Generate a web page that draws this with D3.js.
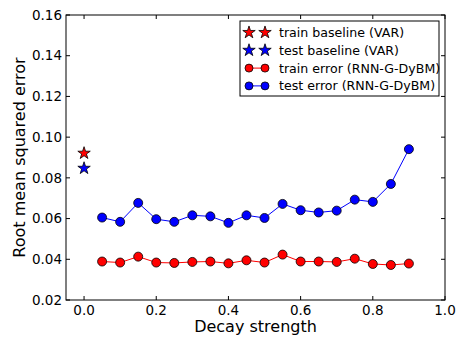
<!DOCTYPE html>
<meta charset="utf-8">
<style>
body { margin: 0; background: #fff; }
text { font-family: "DejaVu Sans", sans-serif; }
</style>
<div id="chart"></div>
<script src="https://d3js.org/d3.v7.min.js"></script>
<script>
// decay strengths used for the RNN-G-DyBM runs
var decay = [0.05, 0.10, 0.15, 0.20, 0.25, 0.30, 0.35, 0.40, 0.45, 0.50,
             0.55, 0.60, 0.65, 0.70, 0.75, 0.80, 0.85, 0.90];
var trainErr = [0.0389, 0.0384, 0.0413, 0.0384, 0.0382, 0.0387, 0.0389, 0.0380, 0.0395,
                0.0384, 0.0423, 0.0389, 0.0389, 0.0387, 0.0403, 0.0377, 0.0372, 0.0379];
var testErr = [0.0605, 0.0584, 0.0677, 0.0597, 0.0584, 0.0616, 0.0611, 0.0579, 0.0616,
               0.0603, 0.0672, 0.0641, 0.0630, 0.0639, 0.0693, 0.0682, 0.0770, 0.0941];
// VAR baselines, plotted at decay 0
var baseX = 0.0;
var trainBase = 0.0921;
var testBase = 0.0847;

var xTicks = [0.0, 0.2, 0.4, 0.6, 0.8, 1.0];
var yTicks = [0.02, 0.04, 0.06, 0.08, 0.10, 0.12, 0.14, 0.16];

var legendItems = [
  {name: "train baseline (VAR)", color: "#ff0000", kind: "star"},
  {name: "test baseline (VAR)", color: "#0000ff", kind: "star"},
  {name: "train error (RNN-G-DyBM)", color: "#ff0000", kind: "line"},
  {name: "test error (RNN-G-DyBM)", color: "#0000ff", kind: "line"}
];

var W = 461, H = 337;
var margin = {top: 15, right: 16, bottom: 37, left: 66};
var width = W - margin.left - margin.right,
    height = H - margin.top - margin.bottom;

var svg = d3.select("#chart").append("svg")
    .attr("width", W).attr("height", H)
  .append("g")
    .attr("transform", "translate(" + margin.left + "," + margin.top + ")");

var x = d3.scaleLinear().domain([-0.05, 1.0]).range([0, width]);
var y = d3.scaleLinear().domain([0.02, 0.16]).range([height, 0]);

// frame
svg.append("rect")
  .attr("width", width).attr("height", height)
  .attr("fill", "none").attr("stroke", "#000").attr("stroke-width", 1);

// ticks inside on all four sides (classic matplotlib look)
var tl = 4;
svg.selectAll(".xt").data(xTicks).enter().append("path")
  .attr("d", function(d) { return "M" + x(d) + "," + height + "v" + (-tl) + "M" + x(d) + ",0v" + tl; })
  .attr("stroke", "#000");
svg.selectAll(".yt").data(yTicks).enter().append("path")
  .attr("d", function(d) { return "M0," + y(d) + "h" + tl + "M" + width + "," + y(d) + "h" + (-tl); })
  .attr("stroke", "#000");

svg.selectAll(".xl").data(xTicks).enter().append("text")
  .attr("x", function(d) { return x(d); })
  .attr("y", height + 15)
  .attr("text-anchor", "middle")
  .style("font-size", "13.5px")
  .text(function(d) { return d.toFixed(1); });
svg.selectAll(".yl").data(yTicks).enter().append("text")
  .attr("x", -4)
  .attr("y", function(d) { return y(d); })
  .attr("dy", "0.35em")
  .attr("text-anchor", "end")
  .style("font-size", "13.5px")
  .text(function(d) { return d.toFixed(2); });

svg.append("text")
  .attr("x", width / 2).attr("y", height + 32)
  .attr("text-anchor", "middle")
  .style("font-size", "16px")
  .text("Decay strength");
svg.append("text")
  .attr("transform", "translate(" + (-41) + "," + (height / 2) + ") rotate(-90)")
  .attr("text-anchor", "middle")
  .style("font-size", "16px")
  .text("Root mean squared error");

var line = d3.line()
  .x(function(d) { return x(d[0]); })
  .y(function(d) { return y(d[1]); });

var series = [
  {color: "#ff0000", values: d3.zip(decay, trainErr)},
  {color: "#0000ff", values: d3.zip(decay, testErr)}
];

series.forEach(function(s) {
  svg.append("path")
    .attr("d", line(s.values))
    .attr("fill", "none")
    .attr("stroke", s.color)
    .attr("stroke-width", 1);
  svg.selectAll(null).data(s.values).enter().append("circle")
    .attr("cx", function(d) { return x(d[0]); })
    .attr("cy", function(d) { return y(d[1]); })
    .attr("r", 4.5)
    .attr("fill", s.color)
    .attr("stroke", "#000")
    .attr("stroke-width", 0.8);
});

var star = d3.symbol().type(d3.symbolStar).size(48);
[[trainBase, "#ff0000"], [testBase, "#0000ff"]].forEach(function(b) {
  svg.append("path")
    .attr("d", star())
    .attr("transform", "translate(" + x(baseX) + "," + y(b[0]) + ")")
    .attr("fill", b[1])
    .attr("stroke", "#000")
    .attr("stroke-width", 0.8);
});

// legend
var lg = svg.append("g").attr("transform", "translate(" + (240 - margin.left) + "," + (21 - margin.top) + ")");
lg.append("rect")
  .attr("width", 199).attr("height", 75)
  .attr("fill", "#fff").attr("stroke", "#000").attr("stroke-width", 1);
legendItems.forEach(function(d, i) {
  var yy = 11.5 + i * 17.8;
  var g = lg.append("g").attr("transform", "translate(0," + yy + ")");
  if (d.kind === "line") {
    g.append("path").attr("d", "M9,0H25").attr("stroke", d.color).attr("stroke-width", 1);
  }
  [9, 25].forEach(function(px) {
    if (d.kind === "star") {
      g.append("path").attr("d", star()).attr("transform", "translate(" + px + ",0)")
        .attr("fill", d.color).attr("stroke", "#000").attr("stroke-width", 0.8);
    } else {
      g.append("circle").attr("cx", px).attr("r", 4)
        .attr("fill", d.color).attr("stroke", "#000").attr("stroke-width", 0.8);
    }
  });
  g.append("text")
    .attr("x", 39).attr("dy", "0.35em")
    .style("font-size", "12.6px")
    .text(d.name);
});
</script>
